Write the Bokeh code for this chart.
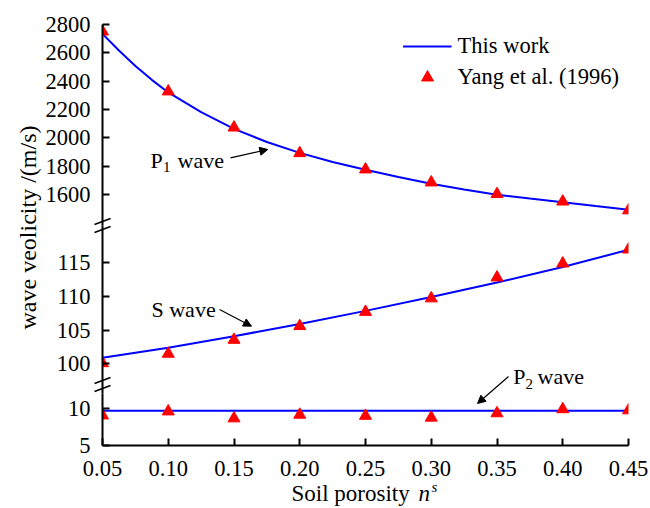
import math

from bokeh.embed import file_html
from bokeh.models import (Arrow, BoxAnnotation, FixedTicker, Label, Legend,
                          LegendItem, LinearAxis, NormalHead,
                          PrintfTickFormatter, Range1d)
from bokeh.plotting import figure
from bokeh.resources import INLINE

# ---------------------------------------------------------------- data
porosity = [0.05, 0.10, 0.15, 0.20, 0.25, 0.30, 0.35, 0.40, 0.45]

# model curve for the P1 wave, read at a finer porosity step
p1_porosity = [0.05, 0.0625, 0.075, 0.0875, 0.10, 0.125, 0.15, 0.175, 0.20,
               0.225, 0.25, 0.275, 0.30, 0.325, 0.35, 0.375, 0.40, 0.425, 0.45]
p1_model = [2734, 2616, 2507, 2409, 2320, 2181, 2063, 1970, 1893,
            1828, 1774, 1722, 1675, 1635, 1598, 1570, 1545, 1518, 1492]
s_model = [100.9, 102.4, 104.1, 105.9, 107.85, 109.9, 112.05, 114.35, 116.9]
p2_model = [9.75, 9.75, 9.75, 9.75, 9.75, 9.75, 9.75, 9.75, 9.75]

# Yang et al. (1996)
p1_yang = [2750, 2327, 2072, 1891, 1776, 1684, 1602, 1549, 1487]
s_yang = [100.1, 101.5, 103.56, 105.6, 107.7, 109.7, 112.8, 114.87, 116.94]
p2_yang = [9.1, 9.65, 8.7, 9.2, 9.05, 8.8, 9.4, 9.95, 9.8]

x_ticks = [0.05, 0.10, 0.15, 0.20, 0.25, 0.30, 0.35, 0.40, 0.45]
p1_ticks = [1600, 1800, 2000, 2200, 2400, 2600, 2800]
s_ticks = [100, 105, 110, 115]
p2_ticks = [5, 10]

# value span of each piece of the broken velocity axis
x_span = (0.05, 0.45)
p1_span = (1380, 2800)
s_span = (95.61, 120.5)
p2_span = (5, 12.1)

# ---------------------------------------------------------------- layout
FONT = "Liberation Serif"
BLUE = "#0000ff"
RED = "#ff0000"
W, H = 650, 508
X0, X1 = 102, 628          # pixel columns of the plotting area
ROWS = {"top": (24, 225), "mid": (225, 393), "bot": (393, 445)}
TICK_FONT = "22.5px"


def widen_x(span, c0, c1):
    lo, hi = span
    k = (hi - lo) / (c1 - c0)
    return Range1d(lo - c0 * k, hi + (W - c1) * k)


def widen_y(span, r0, r1):
    lo, hi = span
    k = (hi - lo) / (r1 - r0)
    return Range1d(lo - (H - r1) * k, hi + r0 * k)


p = figure(width=W, height=H, x_range=widen_x(x_span, X0, X1),
           y_range=Range1d(H, 0), output_backend="svg",
           toolbar_location=None, x_axis_location=None, y_axis_location=None,
           min_border=0)
p.extra_x_ranges = {"px": Range1d(0, W)}
p.extra_y_ranges = {"top": widen_y(p1_span, *ROWS["top"]),
                    "mid": widen_y(s_span, *ROWS["mid"]),
                    "bot": widen_y(p2_span, *ROWS["bot"])}
p.outline_line_color = None
p.grid.visible = False
p.background_fill_color = "white"
p.border_fill_color = "white"


def style_axis(ax, standoff):
    ax.axis_line_width = 2
    ax.axis_line_color = "black"
    ax.major_tick_line_width = 2
    ax.major_tick_line_color = "black"
    ax.major_tick_in = 7
    ax.major_tick_out = 0
    ax.minor_tick_line_color = None
    ax.major_label_text_font = FONT
    ax.major_label_text_font_size = TICK_FONT
    ax.major_label_text_color = "black"
    ax.major_label_standoff = standoff


# ---------------------------------------------------------------- series
def series(name, xs_line, ys_line, ys_pts):
    ln = p.line(xs_line, ys_line, line_color=BLUE, line_width=2,
                y_range_name=name)
    tri = p.scatter(porosity, ys_pts, marker="triangle", size=12,
                    fill_color=RED, line_color=RED, y_range_name=name)
    return ln, tri


line_top, tri_top = series("top", p1_porosity, p1_model, p1_yang)
series("mid", porosity, s_model, s_yang)
series("bot", porosity, p2_model, p2_yang)

# white margins outside the axes, painted over the markers that overhang them
for box in [BoxAnnotation(right=x_span[0]),
            BoxAnnotation(left=x_span[1]),
            BoxAnnotation(bottom=p1_span[1], y_range_name="top")]:
    box.fill_color = "white"
    box.fill_alpha = 1
    box.line_color = None
    box.level = "glyph"
    p.renderers.append(box)

# ---------------------------------------------------------------- axes
for name, span, ticks in [("top", p1_span, p1_ticks),
                          ("mid", s_span, s_ticks),
                          ("bot", p2_span, p2_ticks)]:
    ax = LinearAxis(y_range_name=name, fixed_location=x_span[0],
                    bounds=span, ticker=FixedTicker(ticks=ticks))
    style_axis(ax, 12)
    p.add_layout(ax, "left")

xa = LinearAxis(y_range_name="bot", fixed_location=p2_span[0], bounds=x_span,
                ticker=FixedTicker(ticks=x_ticks),
                formatter=PrintfTickFormatter(format="%.2f"))
style_axis(xa, 15)
p.add_layout(xa, "below")

# ---------------------------------------------------------------- legend
legend = Legend(items=[LegendItem(label="This work", renderers=[line_top]),
                       LegendItem(label="Yang et al. (1996)", renderers=[tri_top])],
                location="top_right", margin=31, padding=0, spacing=1,
                glyph_width=49, glyph_height=30, label_height=30,
                label_standoff=6, label_text_font=FONT,
                label_text_font_size="22.5px", label_text_color="black",
                border_line_color=None, background_fill_alpha=0)
p.add_layout(legend)


# ---------------------------------------------------------------- annotations (pixel positions)
def text(x, y, s, size=22.0, style="normal", angle=0.0, align="left"):
    # y is the baseline row; labels are anchored a little below it
    p.add_layout(Label(x=x, y=y - 0.32 * size, x_range_name="px", text=s,
                       text_font=FONT, text_font_size=f"{size}px",
                       text_font_style=style, text_color="black",
                       angle=angle, text_align=align,
                       text_baseline="alphabetic"))


def stroke(x0, y0, x1, y1, head=False, width=1.2):
    p.add_layout(Arrow(x_start=x0, y_start=y0, x_end=x1, y_end=y1,
                       x_range_name="px", line_color="black", line_width=width,
                       end=NormalHead(size=8, fill_color="black",
                                      line_color="black", line_width=1) if head else None))


# wave labels with their pointers
text(150, 166.7, "P")
text(162.5, 171.5, "1", size=15)
text(177, 166.7, "wave")
stroke(230, 157.3, 267.3, 149, head=True)

text(151, 315.7, "S wave")
stroke(219, 309, 251, 325.7, head=True)

text(512.7, 382.7, "P")
text(525, 388, "2", size=15)
text(537, 382.7, "wave")
stroke(508, 376, 477, 403, head=True)

# break marks on the velocity axis
for yc in (221, 229, 380, 388):
    stroke(X0 - 8, yc + 3, X0 + 8, yc - 3, width=1.5)

# axis titles
p.add_layout(Label(x=27, y=227, x_range_name="px", text="wave veolicity /(m/s)",
                   text_font=FONT, text_font_size="24px", text_color="black",
                   angle=math.pi / 2, text_align="center",
                   text_baseline="middle"))
text(291, 500, "Soil porosity", size=23)
text(418, 500, "n", size=23, style="italic")
text(431, 491, "s", size=15, style="italic")

with open("out.html", "w") as fh:
    fh.write(file_html(p, INLINE))
